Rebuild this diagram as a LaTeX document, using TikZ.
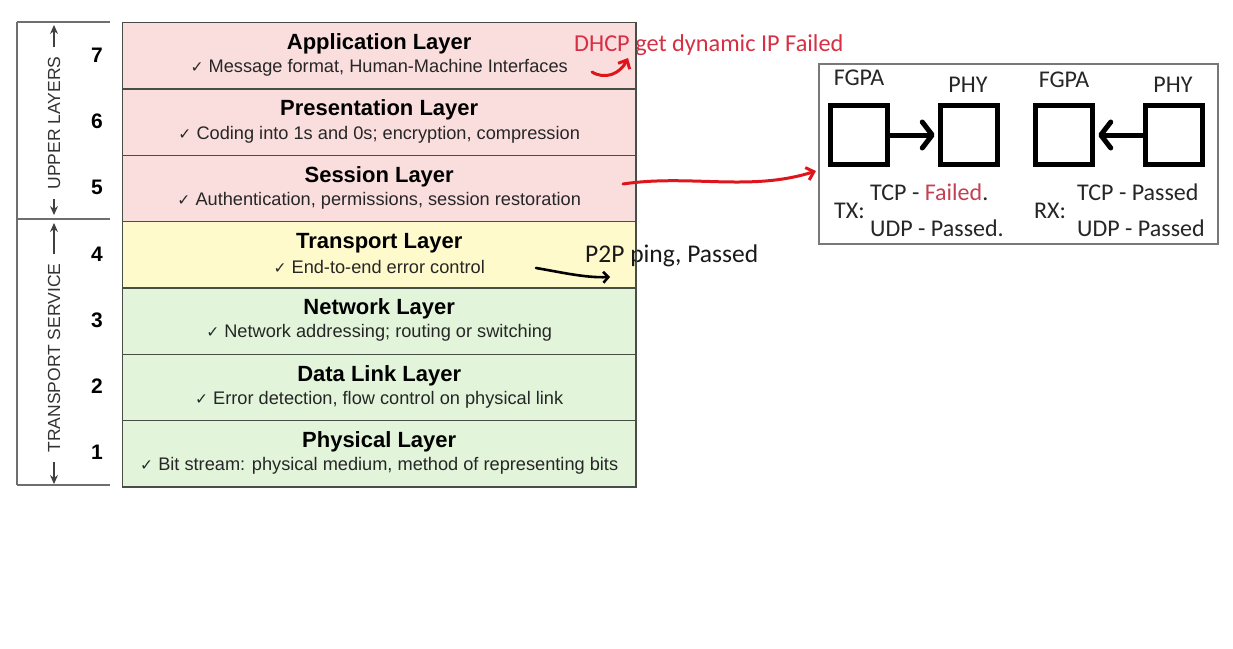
\documentclass[tikz,border=0pt]{standalone}
\usepackage{fontspec}
\setmainfont{Liberation Sans}
\newfontfamily\calfont{Carlito}
\newfontfamily\dvfont{DejaVu Sans}
\usetikzlibrary{arrows.meta}
\definecolor{pinkfill}{RGB}{250,222,222}
\definecolor{yellowfill}{RGB}{255,250,204}
\definecolor{greenfill}{RGB}{226,245,218}
\definecolor{rowline}{RGB}{70,78,70}
\definecolor{bracketgray}{RGB}{110,110,110}
\definecolor{handred}{RGB}{222,22,28}
\definecolor{textred}{RGB}{214,48,68}
\definecolor{failred}{RGB}{196,64,84}
\definecolor{boxgray}{RGB}{120,120,120}
\tikzset{
  row/.style={draw=rowline, line width=1.4pt, minimum width=513pt, minimum height=66.3pt, inner sep=0pt, anchor=north west},
  ttl/.style={font=\fontsize{22}{24}\selectfont\bfseries, inner sep=0pt},
  sub/.style={font=\fontsize{18.2}{19}\selectfont, inner sep=0pt, text=black!85},
  num/.style={font=\fontsize{21}{23}\selectfont\bfseries, inner sep=0pt},
  side/.style={font=\fontsize{17.5}{19}\selectfont, inner sep=0pt, rotate=90, text=black!80},
  sidearrow/.style={draw=black!75, line width=1.1pt, -{Stealth[length=9pt,width=8pt]}},
  hand/.style={font=\calfont\fontsize{24.3}{26}\selectfont, inner sep=0pt, anchor=west},
  redhand/.style={draw=handred, line width=3pt, line cap=round, -{Straight Barb[length=7pt,width=13pt,line width=3pt]}},
  blackhand/.style={draw=black, line width=2.6pt, line cap=round, -{Straight Barb[length=5pt,width=11pt,line width=2.6pt]}},
  chip/.style={draw=black, line width=5.5pt, minimum width=57pt, minimum height=59pt, inner sep=0pt},
  chiparrow/.style={draw=black, line width=5pt, line cap=round, -{Straight Barb[length=10pt,width=26pt,line width=5pt, round]}},
  lbl/.style={font=\calfont\fontsize{24}{26}\selectfont, inner sep=0pt, text=black!85},
}
\newcommand{\chk}{{\dvfont\fontsize{15.5}{17}\selectfont ✓}\ }
\begin{document}
\begin{tikzpicture}[x=1pt,y=-1pt]
\useasboundingbox (0,0) rectangle (1233,648);
\fill[white] (0,0) rectangle (1233,648);

% left bracket
\draw[bracketgray, line width=1.3pt] (17,22) -- (110,22);
\draw[bracketgray, line width=1.3pt] (17,219) -- (110,219);
\draw[bracketgray, line width=1.3pt] (17,485) -- (110,485);
\draw[bracketgray, line width=1.3pt] (17,22) -- (17,485);

% layer rows
\node[row, fill=pinkfill]   (L7) at (122,22) {};
\node[row, fill=pinkfill]   (L6) at (122,88.3) {};
\node[row, fill=pinkfill]   (L5) at (122,154.6) {};
\node[row, fill=yellowfill] (L4) at (122,220.9) {};
\node[row, fill=greenfill]  (L3) at (122,287.2) {};
\node[row, fill=greenfill]  (L2) at (122,353.5) {};
\node[row, fill=greenfill]  (L1) at (122,419.8) {};

\foreach \r/\t/\s in {L7/Application Layer/Message format{,} Human-Machine Interfaces,
                      L6/Presentation Layer/Coding into 1s and 0s; encryption{,} compression,
                      L5/Session Layer/Authentication{,} permissions{,} session restoration,
                      L4/Transport Layer/End-to-end error control,
                      L3/Network Layer/Network addressing; routing or switching,
                      L2/Data Link Layer/Error detection{,} flow control on physical link,
                      L1/Physical Layer/Bit stream: physical medium{,} method of representing bits}{
  \node[ttl] (\r t) at ([yshift=-22pt]\r.north) {\t};
  \node[sub] (\r s) at ([yshift=-46pt]\r.north) {\chk\s};
}

% numbers
\node[num] (n7) at (97,55) {7};
\node[num] (n6) at (97,121) {6};
\node[num] (n5) at (97,187) {5};
\node[num] (n4) at (97,254) {4};
\node[num] (n3) at (97,320) {3};
\node[num] (n2) at (97,386) {2};
\node[num] (n1) at (97,452) {1};

% side labels
\node[side] (up) at (54,123) {UPPER LAYERS};
\coordinate (upT) at (54,25);
\coordinate (upB) at (54,215);
\draw[sidearrow] ([yshift=9pt]up.east) -- (upT);
\draw[sidearrow] ([yshift=-9pt]up.west) -- (upB);
\node[side] (ts) at (54,358) {TRANSPORT SERVICE};
\coordinate (tsT) at (54,223);
\coordinate (tsB) at (54,484);
\draw[sidearrow] ([yshift=9pt]ts.east) -- (tsT);
\draw[sidearrow] ([yshift=-9pt]ts.west) -- (tsB);

% handwritten notes
\node[hand, text=textred] (dhcp) at (574,45) {DHCP get dynamic IP Failed};
\node[hand, text=black!90, font=\calfont\fontsize{25.5}{27}\selectfont] (p2p) at (585,256) {P2P ping, Passed};
\draw[rowline, line width=1.4pt] (L7.north east) -- (L1.south east);

\coordinate (d0) at (592,72);
\coordinate (d1) at (628,58);
\draw[redhand] (d0) .. controls (605,80) and (620,74) .. (d1);
\coordinate (p0) at (536,268);
\coordinate (p1) at (610,277);
\draw[blackhand] (p0) .. controls (560,272) and (585,278) .. (p1);

% right panel
\node[draw=boxgray, line width=1.6pt, minimum width=399pt, minimum height=180pt, anchor=north west, inner sep=0pt] (panel) at (818,63) {};
\node[lbl] (f1) at (859,78) {FGPA};
\node[lbl] (h1) at (968,85) {PHY};
\node[lbl] (f2) at (1064,80) {FGPA};
\node[lbl] (h2) at (1173,85) {PHY};
\node[chip] (c1) at (859,135) {};
\node[chip] (c2) at (969,135) {};
\node[chip] (c3) at (1064,135) {};
\node[chip] (c4) at (1174,135) {};
\draw[chiparrow] (c1.east) -- ([xshift=-3pt]c2.west);
\draw[chiparrow] (c4.west) -- ([xshift=3pt]c3.east);

\node[lbl, anchor=west] (tx) at (834,211) {TX:};
\node[lbl, anchor=west] (tx1) at (870,192) {TCP - \textcolor{failred}{Failed}.};
\node[lbl, anchor=west] (tx2) at (870,228) {UDP - Passed.};
\node[lbl, anchor=west] (rx) at (1034,211) {RX:};
\node[lbl, anchor=west] (rx1) at (1077,192) {TCP - Passed};
\node[lbl, anchor=west] (rx2) at (1077,228) {UDP - Passed};

\coordinate (s0) at (623,184);
\coordinate (s1) at (816,171);
\draw[redhand] (s0) .. controls (690,174) and (750,192) .. (s1);
\end{tikzpicture}
\end{document}
